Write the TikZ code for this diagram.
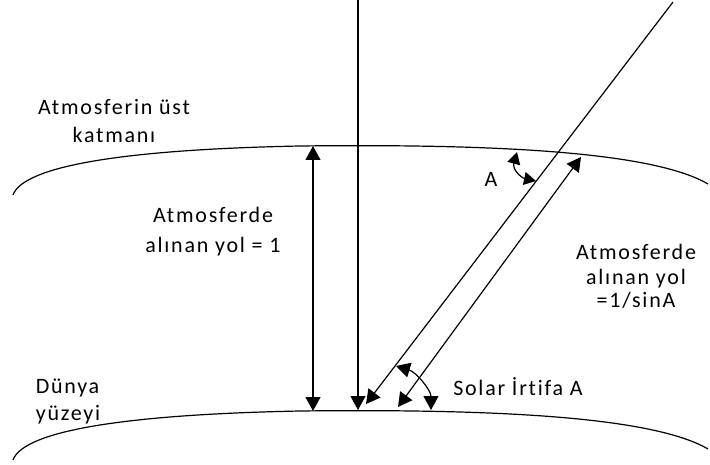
\documentclass[tikz,border=0pt]{standalone}
\usepackage{fontspec}
\setmainfont[LetterSpace=8,Ligatures={NoCommon}]{Carlito}
\usetikzlibrary{arrows.meta}
\begin{document}
\begin{tikzpicture}[x=1pt,y=-1pt,
  line width=1.2pt,
  tip/.style={-{Triangle[length=14pt,width=15pt]}},
  dtip/.style={{Triangle[length=14pt,width=15pt]}-{Triangle[length=14pt,width=15pt]}},
  stip/.style={{Triangle[length=12pt,width=13pt]}-{Triangle[length=12pt,width=13pt]}},
  lbl/.style={inner sep=0pt,align=center,anchor=base}]
\useasboundingbox (0,0) rectangle (710,465);
% layers
\draw (13,195) .. controls (22,170) and (100,150) .. (300,146)
      .. controls (480,144) and (650,150) .. (708,184);
\draw[yshift=-265pt] (13,195) .. controls (22,170) and (100,150) .. (300,146)
      .. controls (480,144) and (650,150) .. (708,184);
% coordinates
\coordinate (vtop) at (358,0);
\coordinate (vbot) at (358,410);
\coordinate (mtop) at (313,146);
\coordinate (mbot) at (313,411);
\coordinate (rtop) at (673,2);
\coordinate (rbot) at (366,404);
\coordinate (ptop) at (581,157);
\coordinate (pbot) at (398,407);
\coordinate (a1) at (517,152);
\coordinate (a2) at (536,181);
\coordinate (b1) at (396,366);
\coordinate (b2) at (431,410);
% rays and paths
\draw[tip] (vtop) -- (vbot);
\draw[dtip] (mtop) -- (mbot);
\draw[tip] (rtop) -- (rbot);
\draw[dtip] (pbot) -- (ptop);
\draw[stip] (a1) .. controls (512,170) and (522,178) .. (a2);
\draw[dtip] (b1) .. controls (416,372) and (431,390) .. (b2);
% labels (anchor=base is the last line's baseline)
\node[lbl,font=\fontsize{22}{28}\selectfont] (top) at (114,143) {Atmosferin üst\\katmanı};
\node[lbl,font=\fontsize{22}{30}\selectfont] (left) at (213,253) {Atmosferde\\alınan yol = 1};
\node[lbl,font=\fontsize{22}{24}\selectfont] (right) at (636,308) {Atmosferde\\alınan yol\\=1/sinA};
\node[lbl,font=\fontsize{22}{28}\selectfont] (angA) at (491,187) {A};
\node[lbl,font=\fontsize{22}{28}\selectfont] (solar) at (518,395) {Solar İrtifa A};
\node[lbl,align=left,font=\fontsize{22}{27}\selectfont] (earth) at (68,420) {Dünya\\yüzeyi};
\end{tikzpicture}
\end{document}
